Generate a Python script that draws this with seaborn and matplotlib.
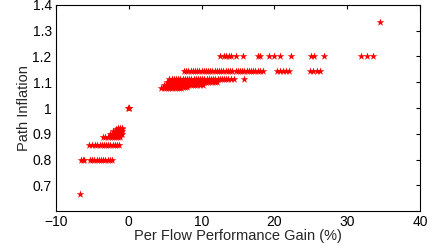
import matplotlib
matplotlib.use("Agg")
import matplotlib.pyplot as plt
import seaborn as sns
import pandas as pd

# Each row: path inflation level -> per-flow performance gain values (%)
row_0667 = [-6.7]
row_0800 = [-6.6, -6.3, -6.1, -5.3, -5.0, -4.7, -4.4, -4.1, -3.8, -3.5, -3.2, -2.9, -2.6, -2.3]
row_0857 = [-5.4, -5.0, -4.6, -4.3, -4.0, -3.7, -3.4, -3.1, -2.8, -2.5, -2.2, -1.9, -1.6, -1.3]
row_0889 = [-3.5, -3.2, -2.9, -2.6, -2.3, -2.0, -1.7, -1.4, -1.2]
row_0900 = [-2.6, -2.3, -2.0, -1.7, -1.4, -1.1, -0.9]
row_0909 = [-2.1, -1.8, -1.5, -1.2, -0.9]
row_0917 = [-1.8, -1.5, -1.2, -0.9]
row_0923 = [-1.5, -1.2, -0.9]
row_1000 = [-0.05, 0.0, 0.1]
row_1077 = [4.5, 4.8, 5.1, 5.4, 5.7, 6.0, 6.3, 6.6, 6.9, 7.2]
row_1083 = [5.0, 5.3, 5.6, 5.9, 6.2, 6.5, 6.8, 7.1, 7.4, 7.7, 8.0]
row_1091 = [4.9, 5.2, 5.5, 5.8, 6.1, 6.4, 6.7, 7.0, 7.3, 7.6, 7.9, 8.2, 8.5, 8.8, 9.1, 9.4, 9.8, 10.2]
row_1100 = [5.2, 5.5, 5.8, 6.1, 6.4, 6.7, 7.0, 7.3, 7.6, 7.9, 8.2, 8.5, 8.8, 9.1, 9.4, 9.7,
            10.0, 10.3, 10.6, 10.9, 11.2, 11.5, 11.8, 12.1]
row_1111 = [5.6, 5.9, 6.2, 6.5, 6.8, 7.1, 7.4, 7.7, 8.0, 8.3, 8.6, 8.9, 9.2, 9.5, 9.8,
            10.1, 10.4, 10.7, 11.0, 11.3, 11.6, 11.9, 12.2, 12.5, 12.8, 13.1, 13.4, 13.7,
            14.0, 14.4, 15.8]
row_1143 = [7.6, 7.9, 8.2, 8.5, 8.8, 9.1, 9.4, 9.7, 10.0, 10.3, 10.6, 10.9, 11.2, 11.5,
            11.8, 12.1, 12.4, 12.7, 13.0, 13.3, 13.6, 13.9, 14.2, 14.7, 15.0, 15.3, 15.6,
            15.9, 16.2, 16.5, 16.8, 17.1, 17.4, 17.7, 18.0, 18.4,
            20.4, 20.8, 21.2, 21.6, 22.0, 24.9, 25.3, 25.8, 26.3]
row_1200 = [12.5, 13.1, 13.4, 13.8, 14.1, 14.8, 15.7, 17.7, 18.0, 19.2, 19.9, 20.8, 22.3,
            25.0, 25.4, 26.8, 31.9, 32.7, 33.5]
row_1333 = [34.5]

levels = [2/3, 0.8, 6/7, 8/9, 0.9, 10/11, 11/12, 12/13, 1.0, 14/13, 13/12, 12/11,
          1.1, 10/9, 8/7, 1.2, 4/3]
rows = [row_0667, row_0800, row_0857, row_0889, row_0900, row_0909, row_0917, row_0923,
        row_1000, row_1077, row_1083, row_1091, row_1100, row_1111, row_1143, row_1200,
        row_1333]

gain, infl = [], []
for lv, r in zip(levels, rows):
    gain += r
    infl += [lv] * len(r)
df = pd.DataFrame({"gain": gain, "inflation": infl})

xticks = [-10, 0, 10, 20, 30, 40]
yticks = [0.7, 0.8, 0.9, 1.0, 1.1, 1.2, 1.3, 1.4]
ytick_labels = ["0.7", "0.8", "0.9", "1", "1.1", "1.2", "1.3", "1.4"]

sns.set_theme(style="white")
plt.rcParams["font.family"] = ["Liberation Sans", "DejaVu Sans"]

fig = plt.figure(figsize=(4.33, 2.48), dpi=100)
ax = fig.add_axes([0.129, 0.149, 0.841, 0.831])
sns.scatterplot(data=df, x="gain", y="inflation", marker="*", color="red",
                s=34, linewidth=0, ax=ax, legend=False)

ax.set_xlim(-10, 40)
ax.set_ylim(0.6, 1.4)
ax.set_xticks(xticks)
ax.set_xticklabels(["\u221210", "0", "10", "20", "30", "40"])
ax.set_yticks(yticks)
ax.set_yticklabels(ytick_labels)
ax.tick_params(direction="in", length=3, width=0.8, top=True, right=True,
               labelsize=10, colors="black", pad=3)
for sp in ax.spines.values():
    sp.set_color("black")
    sp.set_linewidth(0.8)
ax.set_xlabel("Per Flow Performance Gain (%)", fontsize=10.5, labelpad=0)
ax.set_ylabel("Path Inflation", fontsize=10.5, labelpad=1)

fig.savefig("out.png", dpi=100)
